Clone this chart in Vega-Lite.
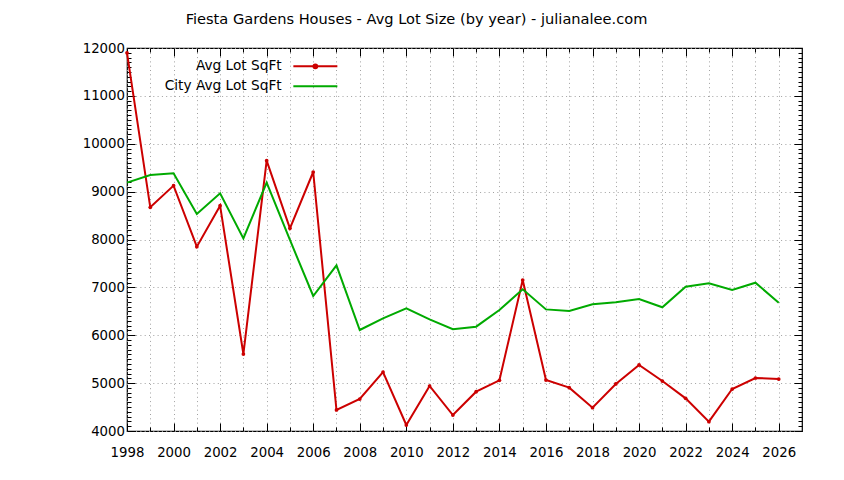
{
  "$schema": "https://vega.github.io/schema/vega-lite/v6.json",
  "width": 675,
  "height": 383,
  "autosize": "none",
  "padding": {"left": 127, "top": 48, "right": 42, "bottom": 49},
  "background": "white",
  "title": {"text": "Fiesta Gardens Houses - Avg Lot Size (by year) - julianalee.com", "anchor": "middle", "dx": -48, "offset": 14, "fontSize": 14.6, "fontWeight": "normal", "font": "DejaVu Sans", "color": "black"},
  "config": {
    "view": {"stroke": "black", "strokeWidth": 1.2},
    "axis": {"domain": false, "labelFont": "DejaVu Sans", "labelFontSize": 13.3, "labelColor": "black", "labelOverlap": false, "labelFlush": false, "tickColor": "black", "tickWidth": 1, "gridColor": "#a0a0a0", "gridDash": [1, 3.3], "gridWidth": 1, "gridOpacity": 1, "title": null},
    "legend": {"labelFont": "DejaVu Sans", "labelFontSize": 13.7, "labelColor": "black"}
  },
  "data": {"values": [
    {"year": 1998, "series": "Avg Lot SqFt", "value": 11900},
    {"year": 1999, "series": "Avg Lot SqFt", "value": 8672},
    {"year": 2000, "series": "Avg Lot SqFt", "value": 9125},
    {"year": 2001, "series": "Avg Lot SqFt", "value": 7850},
    {"year": 2002, "series": "Avg Lot SqFt", "value": 8706},
    {"year": 2003, "series": "Avg Lot SqFt", "value": 5608},
    {"year": 2004, "series": "Avg Lot SqFt", "value": 9647},
    {"year": 2005, "series": "Avg Lot SqFt", "value": 8233},
    {"year": 2006, "series": "Avg Lot SqFt", "value": 9410},
    {"year": 2007, "series": "Avg Lot SqFt", "value": 4439},
    {"year": 2008, "series": "Avg Lot SqFt", "value": 4668},
    {"year": 2009, "series": "Avg Lot SqFt", "value": 5232},
    {"year": 2010, "series": "Avg Lot SqFt", "value": 4125},
    {"year": 2011, "series": "Avg Lot SqFt", "value": 4940},
    {"year": 2012, "series": "Avg Lot SqFt", "value": 4334},
    {"year": 2013, "series": "Avg Lot SqFt", "value": 4821},
    {"year": 2014, "series": "Avg Lot SqFt", "value": 5059},
    {"year": 2015, "series": "Avg Lot SqFt", "value": 7154},
    {"year": 2016, "series": "Avg Lot SqFt", "value": 5065},
    {"year": 2017, "series": "Avg Lot SqFt", "value": 4905},
    {"year": 2018, "series": "Avg Lot SqFt", "value": 4487},
    {"year": 2019, "series": "Avg Lot SqFt", "value": 4982},
    {"year": 2020, "series": "Avg Lot SqFt", "value": 5379},
    {"year": 2021, "series": "Avg Lot SqFt", "value": 5044},
    {"year": 2022, "series": "Avg Lot SqFt", "value": 4682},
    {"year": 2023, "series": "Avg Lot SqFt", "value": 4195},
    {"year": 2024, "series": "Avg Lot SqFt", "value": 4877},
    {"year": 2025, "series": "Avg Lot SqFt", "value": 5107},
    {"year": 2026, "series": "Avg Lot SqFt", "value": 5086},
    {"year": 1998, "series": "City Avg Lot SqFt", "value": 9187},
    {"year": 1999, "series": "City Avg Lot SqFt", "value": 9347},
    {"year": 2000, "series": "City Avg Lot SqFt", "value": 9382},
    {"year": 2001, "series": "City Avg Lot SqFt", "value": 8533},
    {"year": 2002, "series": "City Avg Lot SqFt", "value": 8964},
    {"year": 2003, "series": "City Avg Lot SqFt", "value": 8024},
    {"year": 2004, "series": "City Avg Lot SqFt", "value": 9187},
    {"year": 2005, "series": "City Avg Lot SqFt", "value": 7990},
    {"year": 2006, "series": "City Avg Lot SqFt", "value": 6820},
    {"year": 2007, "series": "City Avg Lot SqFt", "value": 7460},
    {"year": 2008, "series": "City Avg Lot SqFt", "value": 6110},
    {"year": 2009, "series": "City Avg Lot SqFt", "value": 6354},
    {"year": 2010, "series": "City Avg Lot SqFt", "value": 6563},
    {"year": 2011, "series": "City Avg Lot SqFt", "value": 6330},
    {"year": 2012, "series": "City Avg Lot SqFt", "value": 6125},
    {"year": 2013, "series": "City Avg Lot SqFt", "value": 6179},
    {"year": 2014, "series": "City Avg Lot SqFt", "value": 6527},
    {"year": 2015, "series": "City Avg Lot SqFt", "value": 6960},
    {"year": 2016, "series": "City Avg Lot SqFt", "value": 6540},
    {"year": 2017, "series": "City Avg Lot SqFt", "value": 6507},
    {"year": 2018, "series": "City Avg Lot SqFt", "value": 6647},
    {"year": 2019, "series": "City Avg Lot SqFt", "value": 6688},
    {"year": 2020, "series": "City Avg Lot SqFt", "value": 6757},
    {"year": 2021, "series": "City Avg Lot SqFt", "value": 6584},
    {"year": 2022, "series": "City Avg Lot SqFt", "value": 7014},
    {"year": 2023, "series": "City Avg Lot SqFt", "value": 7084},
    {"year": 2024, "series": "City Avg Lot SqFt", "value": 6945},
    {"year": 2025, "series": "City Avg Lot SqFt", "value": 7098},
    {"year": 2026, "series": "City Avg Lot SqFt", "value": 6680}
  ]},
  "resolve": {"axis": {"x": "independent", "y": "independent"}},
  "layer": [
    {
      "mark": {"type": "point", "opacity": 0},
      "encoding": {
        "x": {"field": "year", "type": "quantitative", "scale": {"domain": [1998, 2027], "nice": false, "zero": false},
              "axis": {"orient": "bottom", "values": [1999,2001,2003,2005,2007,2009,2011,2013,2015,2017,2019,2021,2023,2025], "labels": false, "tickSize": -4, "grid": true}},
        "y": {"field": "value", "type": "quantitative", "scale": {"domain": [4000, 12000], "nice": false, "zero": false},
              "axis": {"orient": "left", "values": [4100,4200,4300,4400,4500,4600,4700,4800,4900,5100,5200,5300,5400,5500,5600,5700,5800,5900,6100,6200,6300,6400,6500,6600,6700,6800,6900,7100,7200,7300,7400,7500,7600,7700,7800,7900,8100,8200,8300,8400,8500,8600,8700,8800,8900,9100,9200,9300,9400,9500,9600,9700,9800,9900,10100,10200,10300,10400,10500,10600,10700,10800,10900,11100,11200,11300,11400,11500,11600,11700,11800,11900], "labels": false, "tickSize": -4, "grid": false}}
      }
    },
    {
      "mark": {"type": "point", "opacity": 0},
      "encoding": {
        "x": {"field": "year", "type": "quantitative", "scale": {"domain": [1998, 2027], "nice": false, "zero": false},
              "axis": {"orient": "top", "values": [1998,2000,2002,2004,2006,2008,2010,2012,2014,2016,2018,2020,2022,2024,2026], "labels": false, "tickSize": -8, "grid": false}},
        "y": {"field": "value", "type": "quantitative", "scale": {"domain": [4000, 12000], "nice": false, "zero": false},
              "axis": {"orient": "right", "values": [4000,5000,6000,7000,8000,9000,10000,11000,12000], "labels": false, "tickSize": -8, "grid": false}}
      }
    },
    {
      "mark": {"type": "point", "opacity": 0},
      "encoding": {
        "x": {"field": "year", "type": "quantitative", "scale": {"domain": [1998, 2027], "nice": false, "zero": false},
              "axis": {"orient": "top", "values": [1999,2001,2003,2005,2007,2009,2011,2013,2015,2017,2019,2021,2023,2025], "labels": false, "tickSize": -4, "grid": false}},
        "y": {"field": "value", "type": "quantitative", "scale": {"domain": [4000, 12000], "nice": false, "zero": false},
              "axis": {"orient": "right", "values": [4100,4200,4300,4400,4500,4600,4700,4800,4900,5100,5200,5300,5400,5500,5600,5700,5800,5900,6100,6200,6300,6400,6500,6600,6700,6800,6900,7100,7200,7300,7400,7500,7600,7700,7800,7900,8100,8200,8300,8400,8500,8600,8700,8800,8900,9100,9200,9300,9400,9500,9600,9700,9800,9900,10100,10200,10300,10400,10500,10600,10700,10800,10900,11100,11200,11300,11400,11500,11600,11700,11800,11900], "labels": false, "tickSize": -4, "grid": false}}
      }
    },
    {
      "mark": {"type": "line", "strokeWidth": 2},
      "encoding": {
        "x": {"field": "year", "type": "quantitative", "scale": {"domain": [1998, 2027], "nice": false, "zero": false},
              "axis": {"orient": "bottom", "values": [1998,2000,2002,2004,2006,2008,2010,2012,2014,2016,2018,2020,2022,2024,2026], "format": "d", "tickSize": -8, "labelPadding": 22, "grid": true}},
        "y": {"field": "value", "type": "quantitative", "scale": {"domain": [4000, 12000], "nice": false, "zero": false},
              "axis": {"orient": "left", "values": [4000,5000,6000,7000,8000,9000,10000,11000,12000], "format": "d", "tickSize": -8, "labelPadding": 10.5, "grid": true}},
        "color": {"field": "series", "type": "nominal",
                  "scale": {"domain": ["Avg Lot SqFt", "City Avg Lot SqFt"], "range": ["#cc0000", "#00aa00"]},
                  "legend": {"title": null, "orient": "none", "legendX": 10, "legendY": 11.5, "symbolType": "M-4,0H4", "symbolSize": 121, "symbolStrokeWidth": 2, "labelAlign": "right", "symbolOffset": 171.5, "labelOffset": -40.5, "rowPadding": 5,
                             "encode": {"symbols": {"update": {"shape": [{"test": "datum.value === 'Avg Lot SqFt'", "value": "M-4,0H4M-0.35,0A0.35,0.35 0 1,0 0.35,0A0.35,0.35 0 1,0 -0.35,0"}, {"value": "M-4,0H4"}]}}}}}
      }
    },
    {
      "transform": [{"filter": "datum.series == 'Avg Lot SqFt'"}],
      "mark": {"type": "point", "filled": true, "size": 14, "opacity": 1, "color": "#cc0000"},
      "encoding": {
        "x": {"field": "year", "type": "quantitative", "axis": null},
        "y": {"field": "value", "type": "quantitative", "axis": null}
      }
    }
  ]
}
